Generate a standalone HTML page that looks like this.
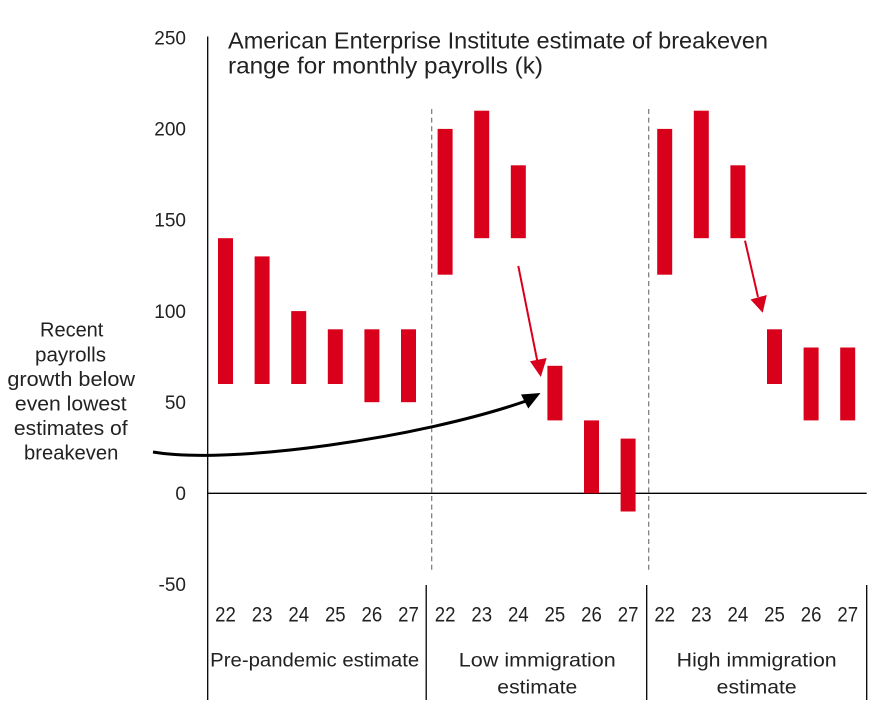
<!DOCTYPE html>
<html>
<head>
<meta charset="utf-8">
<style>
html,body{margin:0;padding:0;background:#fff;}
svg{display:block;}
text{font-family:"Liberation Sans",Arial,sans-serif;fill:#222;}
</style>
</head>
<body>
<svg width="878" height="712" viewBox="0 0 878 712" xmlns="http://www.w3.org/2000/svg">
  <rect width="878" height="712" fill="#fff"/>
  <!-- Title -->
  <text x="228" y="48.3" font-size="23" textLength="540" lengthAdjust="spacingAndGlyphs">American Enterprise Institute estimate of breakeven</text>
  <text x="228" y="73.3" font-size="23" textLength="315" lengthAdjust="spacingAndGlyphs">range for monthly payrolls (k)</text>

  <!-- Y axis labels -->
  <g font-size="19" text-anchor="end">
    <text x="186" y="44.5">250</text>
    <text x="186" y="135.6">200</text>
    <text x="186" y="226.7">150</text>
    <text x="186" y="317.8">100</text>
    <text x="186" y="408.9">50</text>
    <text x="186" y="500">0</text>
    <text x="186" y="591.1">-50</text>
  </g>

  <!-- Axes -->
  <line x1="207.7" y1="36.5" x2="207.7" y2="700" stroke="#000" stroke-width="1.3"/>
  <line x1="207" y1="493.3" x2="866.7" y2="493.3" stroke="#000" stroke-width="1.3"/>
  <line x1="426.2" y1="585" x2="426.2" y2="700" stroke="#000" stroke-width="1.3"/>
  <line x1="646.7" y1="585" x2="646.7" y2="700" stroke="#000" stroke-width="1.3"/>
  <line x1="866.7" y1="585" x2="866.7" y2="700" stroke="#000" stroke-width="1.3"/>

  <!-- Dashed separators -->
  <line x1="431.7" y1="109" x2="431.7" y2="570" stroke="#777" stroke-width="1.2" stroke-dasharray="5,3.6"/>
  <line x1="648.7" y1="109" x2="648.7" y2="570" stroke="#777" stroke-width="1.2" stroke-dasharray="5,3.6"/>

  <!-- Bars -->
  <g fill="#d9001b">
    <rect x="218" y="238.2" width="15" height="145.8"/>
    <rect x="254.6" y="256.4" width="15" height="127.6"/>
    <rect x="291.2" y="311.1" width="15" height="72.9"/>
    <rect x="327.8" y="329.3" width="15" height="54.7"/>
    <rect x="364.4" y="329.3" width="15" height="72.9"/>
    <rect x="401" y="329.3" width="15" height="72.9"/>

    <rect x="437.6" y="128.9" width="15" height="145.8"/>
    <rect x="474.2" y="110.7" width="15" height="127.5"/>
    <rect x="510.8" y="165.3" width="15" height="72.9"/>
    <rect x="547.4" y="365.8" width="15" height="54.6"/>
    <rect x="584" y="420.4" width="15" height="72.9"/>
    <rect x="620.6" y="438.6" width="15" height="72.9"/>

    <rect x="657.2" y="128.9" width="15" height="145.8"/>
    <rect x="693.8" y="110.7" width="15" height="127.5"/>
    <rect x="730.4" y="165.3" width="15" height="72.9"/>
    <rect x="767" y="329.3" width="15" height="54.7"/>
    <rect x="803.6" y="347.5" width="15" height="72.9"/>
    <rect x="840.2" y="347.5" width="15" height="72.9"/>
  </g>

  <!-- Red arrows -->
  <line x1="518.3" y1="266" x2="537.5" y2="362" stroke="#d9001b" stroke-width="2"/>
  <polygon points="530,361.2 546.7,358 540.8,377" fill="#d9001b"/>
  <line x1="745" y1="240.7" x2="758" y2="297" stroke="#d9001b" stroke-width="2"/>
  <polygon points="750.5,299.5 766.8,295 762.7,312.7" fill="#d9001b"/>

  <!-- Black curved arrow -->
  <path d="M153,452 C230,465 420,438 526,401" fill="none" stroke="#000" stroke-width="3"/>
  <polygon points="521,394.5 540.5,393 528.3,408.5" fill="#000"/>

  <!-- Annotation -->
  <g font-size="20" text-anchor="middle">
    <text x="71.7" y="336.7" textLength="63.3" lengthAdjust="spacingAndGlyphs">Recent</text>
    <text x="70.5" y="361.3" textLength="71" lengthAdjust="spacingAndGlyphs">payrolls</text>
    <text x="71.2" y="385.9" textLength="127.7" lengthAdjust="spacingAndGlyphs">growth below</text>
    <text x="70.8" y="410.5" textLength="111.7" lengthAdjust="spacingAndGlyphs">even lowest</text>
    <text x="70.8" y="435.1" textLength="113.7" lengthAdjust="spacingAndGlyphs">estimates of</text>
    <text x="71.2" y="459.7" textLength="94.3" lengthAdjust="spacingAndGlyphs">breakeven</text>
  </g>

  <!-- Year labels -->
  <g font-size="21" text-anchor="middle">
    <text x="225.5" y="621.7" textLength="20.7" lengthAdjust="spacingAndGlyphs">22</text>
    <text x="262.1" y="621.7" textLength="20.7" lengthAdjust="spacingAndGlyphs">23</text>
    <text x="298.7" y="621.7" textLength="20.7" lengthAdjust="spacingAndGlyphs">24</text>
    <text x="335.3" y="621.7" textLength="20.7" lengthAdjust="spacingAndGlyphs">25</text>
    <text x="371.9" y="621.7" textLength="20.7" lengthAdjust="spacingAndGlyphs">26</text>
    <text x="408.5" y="621.7" textLength="20.7" lengthAdjust="spacingAndGlyphs">27</text>
    <text x="445.1" y="621.7" textLength="20.7" lengthAdjust="spacingAndGlyphs">22</text>
    <text x="481.7" y="621.7" textLength="20.7" lengthAdjust="spacingAndGlyphs">23</text>
    <text x="518.3" y="621.7" textLength="20.7" lengthAdjust="spacingAndGlyphs">24</text>
    <text x="554.9" y="621.7" textLength="20.7" lengthAdjust="spacingAndGlyphs">25</text>
    <text x="591.5" y="621.7" textLength="20.7" lengthAdjust="spacingAndGlyphs">26</text>
    <text x="628.1" y="621.7" textLength="20.7" lengthAdjust="spacingAndGlyphs">27</text>
    <text x="664.7" y="621.7" textLength="20.7" lengthAdjust="spacingAndGlyphs">22</text>
    <text x="701.3" y="621.7" textLength="20.7" lengthAdjust="spacingAndGlyphs">23</text>
    <text x="737.9" y="621.7" textLength="20.7" lengthAdjust="spacingAndGlyphs">24</text>
    <text x="774.5" y="621.7" textLength="20.7" lengthAdjust="spacingAndGlyphs">25</text>
    <text x="811.1" y="621.7" textLength="20.7" lengthAdjust="spacingAndGlyphs">26</text>
    <text x="847.7" y="621.7" textLength="20.7" lengthAdjust="spacingAndGlyphs">27</text>
  </g>

  <!-- Category labels -->
  <g font-size="19.5" text-anchor="middle">
    <text x="314.7" y="666.7" textLength="209" lengthAdjust="spacingAndGlyphs">Pre-pandemic estimate</text>
    <text x="537.3" y="666.7" textLength="157" lengthAdjust="spacingAndGlyphs">Low immigration</text>
    <text x="537.3" y="693.3" textLength="80" lengthAdjust="spacingAndGlyphs">estimate</text>
    <text x="756.7" y="666.7" textLength="160" lengthAdjust="spacingAndGlyphs">High immigration</text>
    <text x="756.7" y="693.3" textLength="80" lengthAdjust="spacingAndGlyphs">estimate</text>
  </g>
</svg>
</body>
</html>
